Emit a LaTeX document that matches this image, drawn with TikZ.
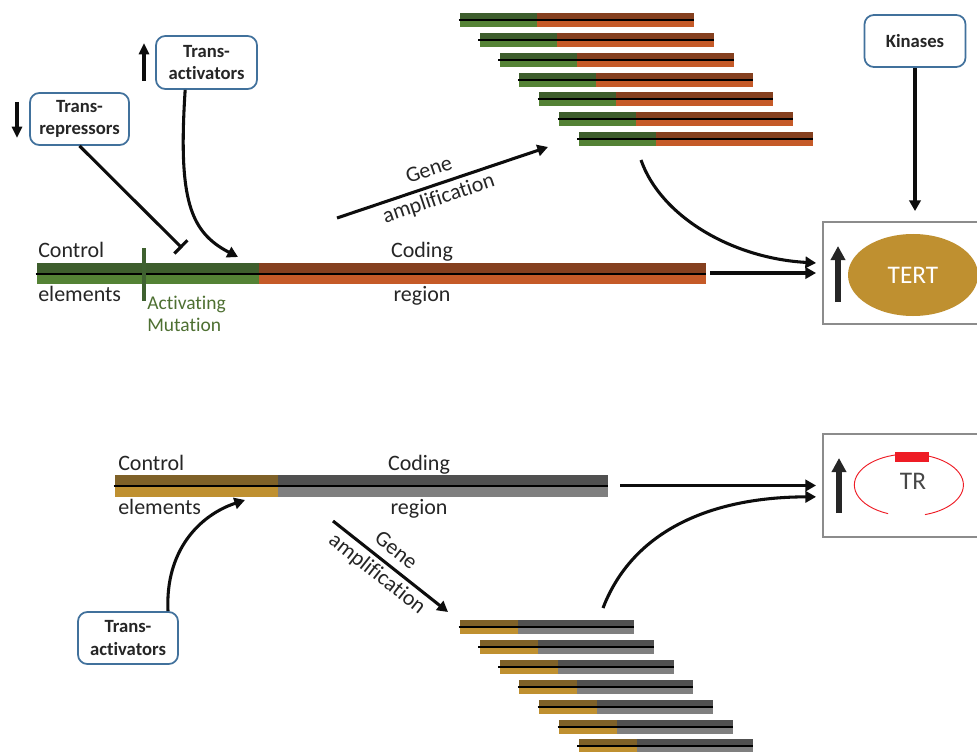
\documentclass[tikz,border=0pt]{standalone}
\usepackage{fontspec}
\setmainfont{Carlito}[Ligatures=NoCommon]
\usetikzlibrary{arrows.meta,shapes.geometric}
\definecolor{greenD}{HTML}{3E5E2D}
\definecolor{greenL}{HTML}{548235}
\definecolor{orangeD}{HTML}{85401F}
\definecolor{orangeL}{HTML}{C55A28}
\definecolor{goldD}{HTML}{7F6128}
\definecolor{goldL}{HTML}{BF9030}
\definecolor{grayD}{HTML}{505050}
\definecolor{grayL}{HTML}{7F7F7F}
\definecolor{mutgreen}{HTML}{3F6130}
\definecolor{muttext}{HTML}{4E7032}
\definecolor{boxblue}{HTML}{41719C}
\definecolor{boxgray}{HTML}{8C8C8C}
\definecolor{tertgold}{HTML}{BF9030}
\definecolor{trred}{HTML}{EE1C25}
\definecolor{ink}{HTML}{0D0D0D}
\definecolor{txt}{HTML}{262626}
\newcommand\gbar[7]{%
  \fill[#6D] (#1,#2) rectangle (#3,{#2+#5/2});
  \fill[#6L] (#1,{#2+#5/2}) rectangle (#3,{#2+#5});
  \fill[#7D] (#3,#2) rectangle (#4,{#2+#5/2});
  \fill[#7L] (#3,{#2+#5/2}) rectangle (#4,{#2+#5});
  \draw[dnaline] ({#1-1.5},{#2+#5/2}) -- (#4,{#2+#5/2});
}
\tikzset{
  dnaline/.style={line width=1.5pt, black},
  lbl/.style={font=\fontsize{16.5}{19}\selectfont, text=txt, inner sep=0pt},
  mutlbl/.style={font=\fontsize{14.6}{17}\selectfont, text=muttext, inner sep=0pt},
  boxlbl/.style={draw=boxblue, line width=1.3pt, rounded corners=7pt, align=center,
    font=\bfseries\fontsize{14}{17}\selectfont, text=txt, inner sep=0pt,
    minimum width=75pt, minimum height=39pt, fill=white},
  graybox/.style={draw=boxgray, line width=1.4pt, inner sep=0pt, minimum width=121.5pt},
  conn/.style={line width=2.3pt, draw=ink, -{Triangle[length=8pt,width=8.5pt]}},
  inhib/.style={line width=2.3pt, draw=ink, -{Bar[width=14pt]}},
  smallarr/.style={line width=2.8pt, draw=ink, -{Triangle[length=8.5pt,width=7.5pt]}},
  bigarr/.style={line width=3.8pt, draw=txt, -{Triangle[length=10.5pt,width=10.5pt]}},
  galbl/.style={sloped, align=center, font=\fontsize{16.5}{22.5}\selectfont, text=txt, inner sep=0pt},
}
\begin{document}
\begin{tikzpicture}[x=0.75pt,y=-0.75pt]
\useasboundingbox (0,0) rectangle (977,752);
\fill[white] (0,0) rectangle (977,752);
\clip (0,0) rectangle (977,752);

% ---------------- TOP: TERT ----------------
\gbar{37}{263}{259}{706}{21}{green}{orange}
\draw[line width=2.4pt, mutgreen] (144,248) -- (144,301);
\node[lbl, anchor=base west] (ctl1) at (38,257.3) {Control};
\node[lbl, anchor=base west] (el1) at (38,301.7) {elements};
\node[lbl, anchor=base] (cod1) at (422,257.3) {Coding};
\node[lbl, anchor=base] (reg1) at (422,301.7) {region};
\node[mutlbl, anchor=base west] (mut1) at (147,309) {Activating};
\node[mutlbl, anchor=base west] (mut2) at (147,331.7) {Mutation};

% amplified copies
\foreach \i in {0,...,6}{
  \pgfmathsetmacro\xa{460+19.8*\i}
  \pgfmathsetmacro\ya{13.3+19.8*\i}
  \gbar{\xa}{\ya}{\xa+77}{\xa+234}{14}{green}{orange}
}

% regulator boxes
\node[boxlbl, minimum width=74.25pt] (trep) at (79.5,119) {Trans-\\repressors};
\node[boxlbl, minimum width=75.75pt, minimum height=39.75pt] (tatop) at (206.5,62.5) {Trans-\\activators};
\node[boxlbl, minimum width=75.75pt] (kin) at (915,41) {Kinases};
\draw[smallarr] (17,102) -- (17,138);
\draw[smallarr] (144,81) -- (144,43);

% TERT box
\node[graybox, minimum height=76.5pt] (tertbox) at (904,273) {};
\node[ellipse, fill=tertgold, minimum width=97.5pt, minimum height=61.5pt, inner sep=0pt,
      text=white, font=\fontsize{19}{22}\selectfont] (tert) at (913,275) {TERT};
\draw[bigarr] (838,302) -- (838,246);

% connectors
\coordinate (inhend) at (182,248);
\draw[inhib] (trep.south) -- (inhend);
\coordinate (taend) at (238,257);
\draw[conn] ([xshift=-16pt]tatop.south) .. controls (178,200) and (190,232) .. (taend);
\coordinate (ga1s) at (337,218);
\coordinate (ga1e) at (548,147);
\draw[conn] (ga1s) -- node[galbl, pos=0.46] {Gene\\amplification} (ga1e);
\coordinate (bar1end) at (710,273);
\draw[conn] (bar1end) -- ([xshift=-4.5pt]tertbox.west);
\coordinate (stack1out) at (641,160);
\draw[conn] (stack1out) .. controls (660,215) and (730,258) .. ([xshift=-4.5pt,yshift=7.5pt]tertbox.west);
\draw[conn, shorten >=7.5pt] (kin.south) -- (kin.south |- tertbox.north);

% ---------------- BOTTOM: TR ----------------
\gbar{115}{475}{278}{608}{22}{gold}{gray}
\node[lbl, anchor=base west] (ctl2) at (118,470) {Control};
\node[lbl, anchor=base west] (el2) at (118,514) {elements};
\node[lbl, anchor=base] (cod2) at (419,470) {Coding};
\node[lbl, anchor=base] (reg2) at (419,514) {region};

\foreach \i in {0,...,6}{
  \pgfmathsetmacro\xa{460+19.8*\i}
  \pgfmathsetmacro\ya{620+19.9*\i}
  \gbar{\xa}{\ya}{\xa+58}{\xa+174}{14}{gold}{gray}
}

\node[boxlbl] (tabot) at (128,638) {Trans-\\activators};

% TR box
\node[graybox, minimum height=77.25pt] (trbox) at (904,485.5) {};
\draw[trred, line width=0.7pt] (925,514.6) arc[start angle=287.2, end angle=607.6, x radius=40.9pt, y radius=23.25pt];
\fill[trred] (895,452) rectangle (929,462);
\node[font=\fontsize{19}{22}\selectfont, text=txt!85, inner sep=0pt] (tr) at (913,481) {TR};
\draw[bigarr] (839,513) -- (839,458);

% connectors
\coordinate (ta2end) at (245,500);
\draw[conn] ([xshift=30pt]tabot.north) .. controls (165,550) and (200,515) .. (ta2end);
\coordinate (ga2s) at (333,521);
\coordinate (ga2e) at (448,612);
\draw[conn] (ga2s) -- node[galbl, pos=0.46] {Gene\\amplification} (ga2e);
\coordinate (bar2end) at (620,485.5);
\draw[conn] (bar2end) -- ([xshift=-4.5pt]trbox.west);
\coordinate (stack2out) at (603,608);
\draw[conn] (stack2out) .. controls (635,525) and (720,497) .. ([xshift=-4.5pt,yshift=-8.5pt]trbox.west);
\end{tikzpicture}
\end{document}
